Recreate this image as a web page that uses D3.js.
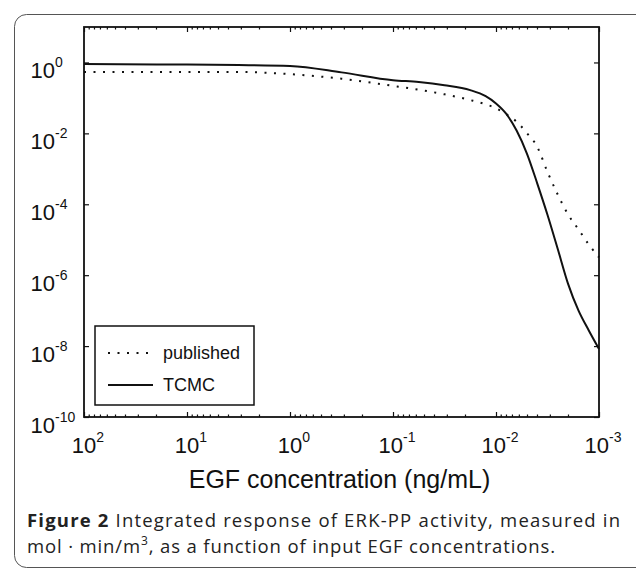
<!DOCTYPE html>
<html>
<head>
<meta charset="utf-8">
<script src="https://cdn.jsdelivr.net/npm/d3@7/dist/d3.min.js"></script>
<style>
  body { margin: 0; background: #fff; }
  text { font-family: "Liberation Sans", Arial, sans-serif; fill: #111; }
</style>
</head>
<body>
<svg></svg>
<script>
var width = 636;
var height = 571;
var svg = d3.select("svg").attr("width", width).attr("height", height);

// EGF concentration (ng/mL) where both curves were read
var egf = [100, 10, 3.16, 1, 0.316, 0.1, 0.0562, 0.0316, 0.0178, 0.0126, 0.01,
           0.00794, 0.00631, 0.00501, 0.00398, 0.00316, 0.00251, 0.002, 0.00158, 0.00126, 0.001];
// integrated ERK-PP response (mol min/m^3)
var published = [0.537, 0.537, 0.537, 0.468, 0.347, 0.219, 0.170, 0.126, 0.087, 0.066, 0.051,
                 0.0347, 0.0214, 0.0102, 4.2e-3, 8.1e-4, 1.86e-4, 5.2e-5, 1.95e-5, 7.4e-6, 3.2e-6];
var tcmc = [0.904, 0.871, 0.847, 0.794, 0.525, 0.316, 0.282, 0.229, 0.166, 0.112, 0.070,
            0.0355, 0.0120, 2.7e-3, 3.9e-4, 5.0e-5, 5.4e-6, 5.8e-7, 1.0e-7, 2.8e-8, 8.3e-9];

var xTickExp = [2, 1, 0, -1, -2, -3];
var yTickExp = [0, -2, -4, -6, -8, -10];
var seriesNames = ["published", "TCMC"];

var margin = {top: 27, right: 37, bottom: 154, left: 84};
var plotW = width - margin.left - margin.right,
    plotH = height - margin.top - margin.bottom;

// outer figure frame (right side runs off the page)
svg.append("rect")
    .attr("x", 14.5).attr("y", 14.5)
    .attr("width", 640).attr("height", 553)
    .attr("rx", 12)
    .attr("fill", "none")
    .attr("stroke", "#555")
    .attr("stroke-width", 1);

var g = svg.append("g").attr("transform", "translate(" + margin.left + "," + margin.top + ")");

var xScale = d3.scaleLog().domain([100, 0.001]).range([0, plotW]);
var yScale = d3.scaleLog().domain([1e-10, 10]).range([plotH, 0]);

var xMajor = xTickExp.map(function(e) { return Math.pow(10, e); });
var xMinor = [];
for (var d = -3; d <= 1; d++) {
  for (var m = 2; m <= 9; m++) xMinor.push(m * Math.pow(10, d));
}
var yMajor = yTickExp.map(function(e) { return Math.pow(10, e); });

function tickAxis(axis, values, size) {
  return axis.tickValues(values).tickSize(size).tickFormat("");
}

// ticks point inward on all four sides
var axes = [
  [d3.axisBottom(xScale), "translate(0," + plotH + ")", xMajor, xMinor],
  [d3.axisTop(xScale), null, xMajor, xMinor],
  [d3.axisLeft(yScale), null, yMajor, []],
  [d3.axisRight(yScale), "translate(" + plotW + ",0)", yMajor, []]
];
axes.forEach(function(a) {
  [[a[2], -5], [a[3], -2.5]].forEach(function(t) {
    var ax = g.append("g").call(tickAxis(a[0], t[0], t[1]));
    if (a[1]) ax.attr("transform", a[1]);
    ax.select(".domain").remove();
    ax.selectAll("line").attr("stroke", "#111").attr("stroke-width", 1.2);
  });
});

g.append("rect")
    .attr("width", plotW).attr("height", plotH)
    .attr("fill", "none")
    .attr("stroke", "#111")
    .attr("stroke-width", 1.8);

// power-of-ten labels
xTickExp.forEach(function(e) {
  var t = g.append("text")
      .attr("x", xScale(Math.pow(10, e)) + 4)
      .attr("y", plotH + 36)
      .attr("text-anchor", "middle")
      .style("font-size", "22px");
  t.append("tspan").text("10");
  t.append("tspan").attr("dy", -11).style("font-size", "14px").text(e);
});
yTickExp.forEach(function(e) {
  var yy = yScale(Math.pow(10, e)) + 16;
  g.append("text")
      .attr("x", -29).attr("y", yy)
      .attr("text-anchor", "end")
      .style("font-size", "22px")
      .text("10");
  g.append("text")
      .attr("x", -29).attr("y", yy - 11)
      .style("font-size", "14px")
      .text(e);
});

g.append("text")
    .attr("x", plotW / 2 - 2)
    .attr("y", plotH + 71)
    .attr("text-anchor", "middle")
    .style("font-size", "25px")
    .text("EGF concentration (ng/mL)");

var line = d3.line()
    .x(function(d) { return xScale(d[0]); })
    .y(function(d) { return yScale(d[1]); })
    .curve(d3.curveMonotoneX);

g.append("path")
    .datum(egf.map(function(v, i) { return [v, published[i]]; }))
    .attr("d", line)
    .attr("fill", "none")
    .attr("stroke", "#111")
    .attr("stroke-width", 2)
    .attr("stroke-dasharray", "2,7.5");

g.append("path")
    .datum(egf.map(function(v, i) { return [v, tcmc[i]]; }))
    .attr("d", line)
    .attr("fill", "none")
    .attr("stroke", "#111")
    .attr("stroke-width", 2);

// legend
var leg = svg.append("g").attr("transform", "translate(95,326)");
leg.append("rect")
    .attr("width", 159).attr("height", 79)
    .attr("fill", "#fff")
    .attr("stroke", "#111")
    .attr("stroke-width", 1.5);
seriesNames.forEach(function(name, i) {
  var yy = 27 + i * 32;
  leg.append("line")
      .attr("x1", 13).attr("x2", 58)
      .attr("y1", yy).attr("y2", yy)
      .attr("stroke", "#111")
      .attr("stroke-width", 2)
      .attr("stroke-dasharray", i === 0 ? "2,7.5" : null);
  leg.append("text")
      .attr("x", 68).attr("y", yy + 6)
      .style("font-size", "18px")
      .text(name);
});

// caption
var cap = svg.append("g");
var c1 = cap.append("text").attr("x", 27).attr("y", 527)
    .attr("textLength", 593).attr("lengthAdjust", "spacing")
    .style("font-family", "'Open Sans', sans-serif").style("font-size", "18.5px").style("fill", "#222");
c1.append("tspan").style("font-weight", "bold").text("Figure 2");
c1.append("tspan").text(" Integrated response of ERK-PP activity, measured in");
var c2 = cap.append("text").attr("x", 27).attr("y", 553)
    .attr("textLength", 528).attr("lengthAdjust", "spacing")
    .style("font-family", "'Open Sans', sans-serif").style("font-size", "18.5px").style("fill", "#222");
c2.append("tspan").text("mol \u00b7 min/m");
c2.append("tspan").attr("dy", -8).style("font-size", "12px").text("3");
c2.append("tspan").attr("dy", 8).text(", as a function of input EGF concentrations.");
</script>
</body>
</html>
